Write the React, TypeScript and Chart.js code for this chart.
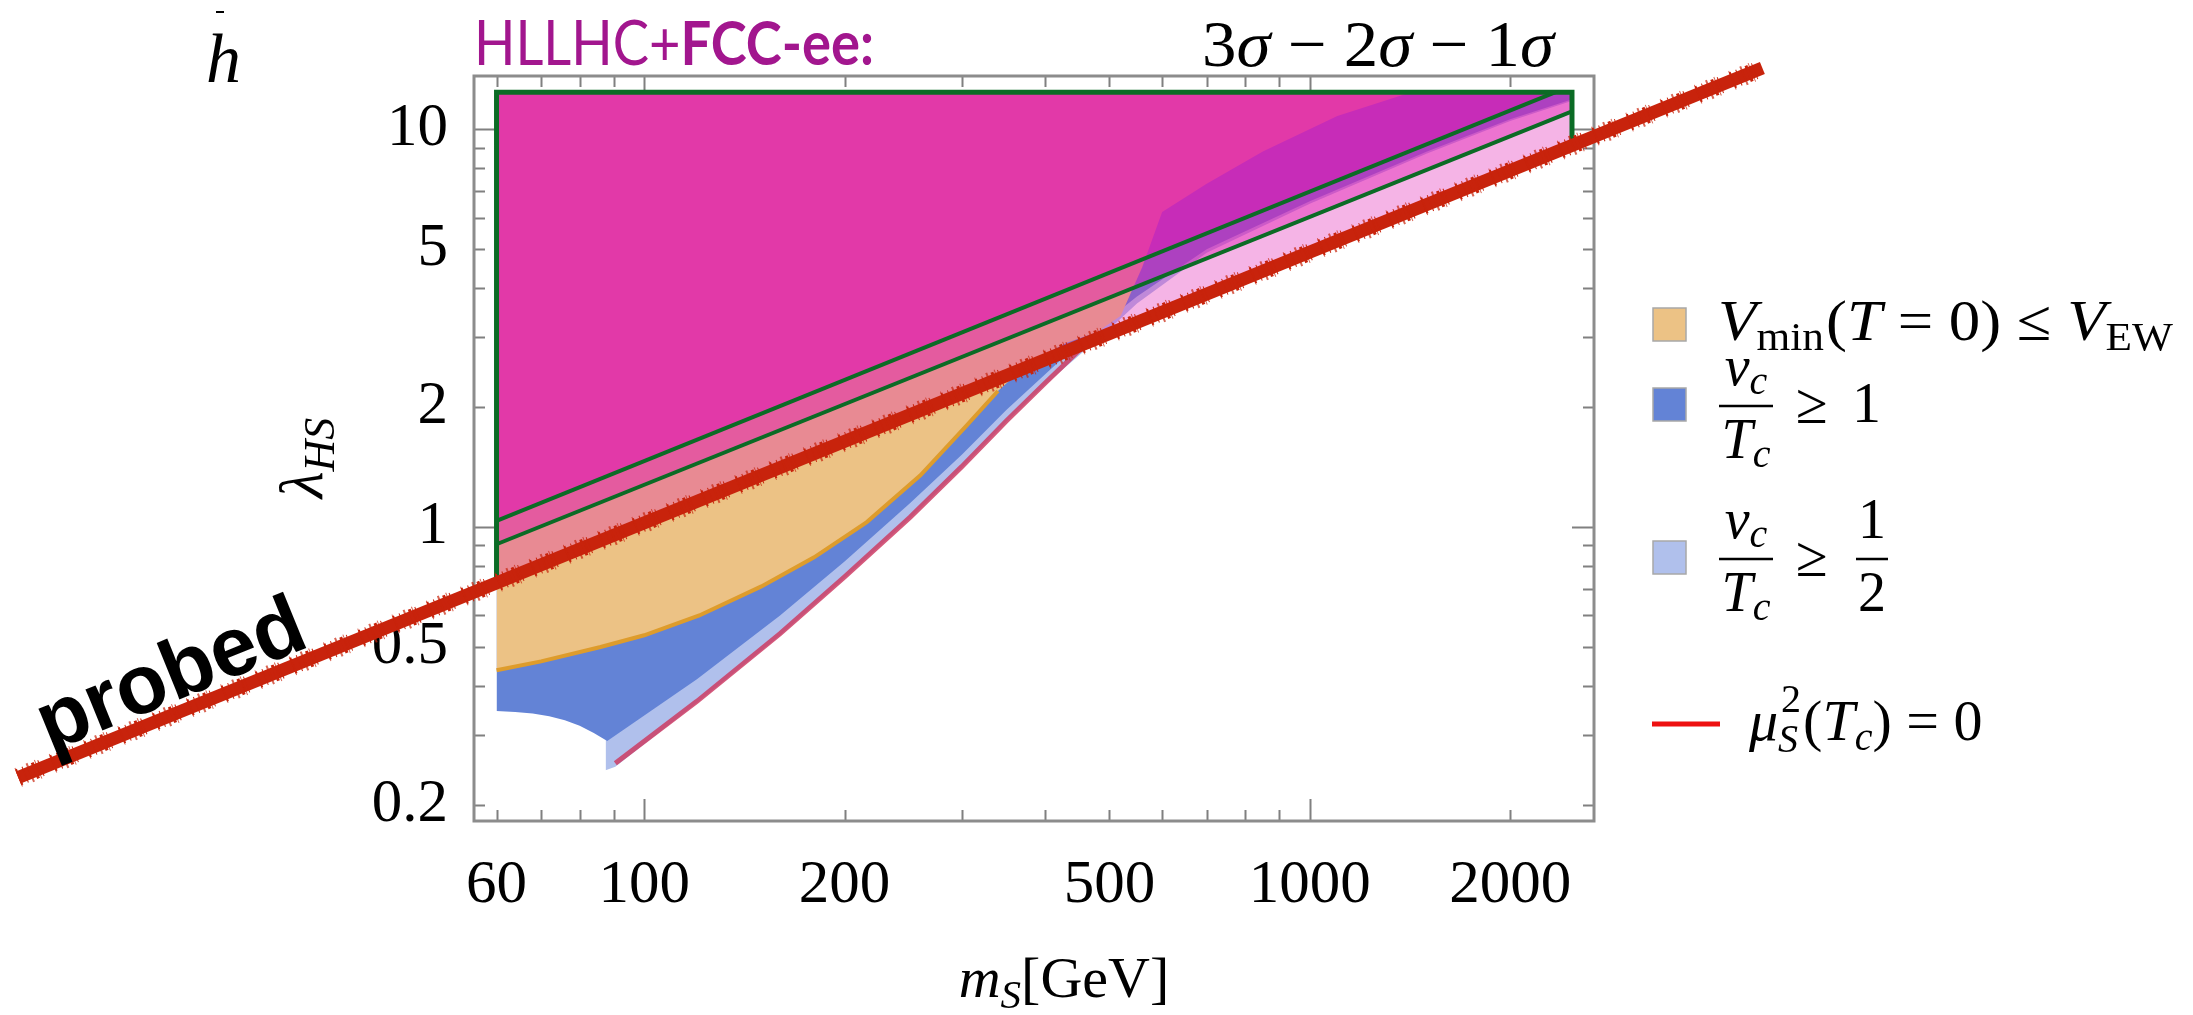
import React, { useEffect, useRef } from 'react';
import { Chart, registerables } from 'chart.js';

Chart.register(...registerables);

const CANVAS_W = 2193;
const CANVAS_H = 1015;

// axis ranges (log-log)
const X_MIN = 55.5;
const X_MAX = 2673;
const Y_MIN = 0.1826;
const Y_MAX = 13.62;

// ticks
const xTickValues = [60, 70, 80, 90, 100, 200, 300, 400, 500, 600, 700, 800, 900, 1000, 2000];
const xTickLabels = ['60', '', '', '', '100', '200', '', '', '500', '', '', '', '', '1000', '2000'];
const yTickValues = [0.2, 0.3, 0.4, 0.5, 0.6, 0.7, 0.8, 0.9, 1, 2, 3, 4, 5, 6, 7, 8, 9, 10];
const yTickLabels = ['0.2', '', '', '0.5', '', '', '', '', '1', '2', '', '', '5', '', '', '', '', '10'];
const longTicks = [1, 10, 100, 1000];

// perturbativity cap and scan edges
const LAMBDA_TOP = 12.4;
const M_LEFT = 60;
const M_RIGHT = 2477;

// HL-LHC + FCC-ee sensitivity contours (1σ, 2σ, 3σ)
const sigma1M = [60, 2477];
const sigma1L = [0.73, 9.0];
const sigma2M = [60, 2477];
const sigma2L = [0.906, 11.1];
const sigma3M = [60, 2340];
const sigma3L = [1.037, 12.4];

// hand-drawn "probed" line
const probedM = [11.47, 4786];
const probedL = [0.235, 14.26];

// V_min(T=0) <= V_EW : lower edge of region
const orangeM = [60, 70, 86, 100, 121, 150, 180, 216, 260, 305, 340, 380, 430, 480, 520, 560, 600, 700, 850, 1100, 1420];
const orangeL = [0.437, 0.46, 0.5, 0.535, 0.6, 0.71, 0.84, 1.03, 1.35, 1.8, 2.2, 2.6, 2.9, 3.1, 3.4, 4.5, 6.2, 7.3, 8.8, 10.8, 12.4];
const orangeEdgeCut = 360;

// v_c/T_c >= 1 : lower edge of region
const blueM = [60, 64, 68, 72, 76, 80, 84, 88, 120, 160, 200, 251, 300, 350, 400, 460, 550, 700, 1000, 1500, 2000, 2480];
const blueL = [0.345, 0.343, 0.34, 0.335, 0.327, 0.317, 0.304, 0.29, 0.415, 0.6, 0.82, 1.15, 1.52, 1.97, 2.42, 3.0, 3.8, 5.0, 6.6, 8.8, 10.6, 11.9];

// v_c/T_c >= 1/2 : lower edge of region
const lightBlueM = [87.5, 90.5, 120, 160, 200, 251, 300, 350, 400, 450, 500, 550, 700, 1000, 1500, 2000, 2480];
const lightBlueL = [0.245, 0.25, 0.362, 0.535, 0.745, 1.055, 1.41, 1.84, 2.28, 2.7, 3.15, 3.65, 4.9, 6.5, 8.7, 10.5, 11.8];

// mu_S^2(T_c) = 0 line
const mu2M = [90.5, 120, 160, 200, 251, 300, 350, 400, 450];
const mu2L = [0.255, 0.365, 0.54, 0.75, 1.06, 1.42, 1.85, 2.3, 2.78];

const SERIF = '"Liberation Serif", "Times New Roman", serif';
const SANS = '"Liberation Sans", Arial, sans-serif';

function pts(ms: number[], ls: number[]) {
  return ms.map((m, i) => ({ x: m, y: ls[i] }));
}

type Seg = { t: string; size: number; it?: boolean; bold?: boolean; family?: string; dy?: number; dx?: number };
function fontOf(s: Seg) {
  return `${s.it ? 'italic ' : ''}${s.bold ? '700' : '400'} ${s.size}px ${s.family || SERIF}`;
}
function segsWidth(ctx: CanvasRenderingContext2D, segs: Seg[]) {
  let w = 0;
  for (const s of segs) {
    ctx.font = fontOf(s);
    w += (s.dx || 0) + ctx.measureText(s.t).width;
  }
  return w;
}
function drawSegs(ctx: CanvasRenderingContext2D, segs: Seg[], x: number, y: number) {
  let cx = x;
  for (const s of segs) {
    ctx.font = fontOf(s);
    cx += s.dx || 0;
    ctx.fillText(s.t, cx, y + (s.dy || 0));
    cx += ctx.measureText(s.t).width;
  }
  return cx;
}
function drawFit(ctx: CanvasRenderingContext2D, segs: Seg[], x: number, y: number, width: number) {
  const w = segsWidth(ctx, segs);
  ctx.save();
  ctx.translate(x, y);
  ctx.scale(width / w, 1);
  drawSegs(ctx, segs, 0, 0);
  ctx.restore();
}

export default function App() {
  const ref = useRef<HTMLCanvasElement>(null);

  useEffect(() => {
    const canvas = ref.current;
    if (!canvas) return;
    const PINK = (a: number) => `rgba(224,22,176,${a})`;
    const datasets: any[] = [];
    const add = (d: any) => {
      datasets.push({
        pointRadius: 0,
        pointHoverRadius: 0,
        borderWidth: 0,
        borderColor: 'rgba(0,0,0,0)',
        backgroundColor: 'rgba(0,0,0,0)',
        fill: false,
        tension: 0,
        ...d,
      });
      return datasets.length - 1;
    };

    // invisible fill targets
    const topLB = add({ data: pts([lightBlueM[0], lightBlueM[lightBlueM.length - 1]], [LAMBDA_TOP, LAMBDA_TOP]), order: 200 });
    const topDB = add({ data: pts([blueM[0], blueM[blueM.length - 1]], [LAMBDA_TOP, LAMBDA_TOP]), order: 200 });
    const topOr = add({ data: pts([orangeM[0], orangeM[orangeM.length - 1]], [LAMBDA_TOP, LAMBDA_TOP]), order: 200 });
    const s2Target = add({ data: pts(sigma2M, sigma2L), order: 200 });
    const s3Target = add({ data: pts(sigma3M.concat([M_RIGHT]), sigma3L.concat([LAMBDA_TOP])), order: 200 });
    const topS3 = add({ data: pts([sigma3M[0], sigma3M[1]], [LAMBDA_TOP, LAMBDA_TOP]), order: 200 });

    // regions
    add({ data: pts(lightBlueM, lightBlueL), fill: topLB, backgroundColor: '#b0c0ec', order: 90 });
    add({ data: pts(blueM, blueL), fill: topDB, backgroundColor: '#6383d6', order: 80 });
    add({ data: pts(orangeM, orangeL), fill: topOr, backgroundColor: '#ecc285', order: 70 });
    const edgeIdx = orangeM.filter((m) => m <= orangeEdgeCut).length;
    add({ data: pts(orangeM.slice(0, edgeIdx), orangeL.slice(0, edgeIdx)), borderColor: '#de9c2c', borderWidth: 4, order: 65 });
    add({ data: pts(mu2M, mu2L), borderColor: 'rgba(205,60,100,0.85)', borderWidth: 5, order: 60 });

    // sensitivity bands
    add({ data: pts(sigma1M, sigma1L), fill: s2Target, backgroundColor: PINK(0.32), order: 50 });
    add({ data: pts(sigma2M, sigma2L), fill: s3Target, backgroundColor: PINK(0.6), order: 49 });
    add({ data: pts(sigma3M, sigma3L), fill: topS3, backgroundColor: PINK(0.8), order: 48 });

    // green contour lines
    const GREEN = '#0b6b25';
    add({
      data: pts([M_LEFT, M_LEFT, M_RIGHT, M_RIGHT, M_LEFT], [sigma1L[0], LAMBDA_TOP, LAMBDA_TOP, sigma1L[1], sigma1L[0]]),
      borderColor: GREEN, borderWidth: 5, borderJoinStyle: 'miter', order: 40,
    });
    add({ data: pts(sigma2M, sigma2L), borderColor: GREEN, borderWidth: 4, order: 40 });
    add({ data: pts(sigma3M, sigma3L), borderColor: GREEN, borderWidth: 4, order: 40 });

    // hand-drawn red line
    const RED = '#c8230c';
    add({ data: pts(probedM, probedL), borderColor: RED, borderWidth: 13, clip: false, order: 10 });
    add({ data: pts(probedM, probedL), borderColor: RED, borderWidth: 17, borderDash: [2, 5, 1, 9, 3, 4, 1, 12], clip: false, order: 9 });
    add({ data: pts(probedM, probedL), borderColor: 'rgba(200,35,12,0.7)', borderWidth: 20, borderDash: [1, 11, 2, 7, 1, 15], clip: false, order: 8 });

    const decor = {
      id: 'decor',
      beforeDatasetsDraw(chart: any) {
        const { ctx, chartArea: a, scales } = chart;
        const xs = scales.x;
        const ys = scales.y;
        ctx.save();
        ctx.strokeStyle = '#808080';
        ctx.lineWidth = 2;
        for (const v of xTickValues) {
          const px = Math.round(xs.getPixelForValue(v)) + 0.5;
          const len = longTicks.includes(v) ? 22 : 11;
          ctx.beginPath();
          ctx.moveTo(px, a.bottom); ctx.lineTo(px, a.bottom - len);
          ctx.moveTo(px, a.top); ctx.lineTo(px, a.top + len);
          ctx.stroke();
        }
        for (const v of yTickValues) {
          const py = Math.round(ys.getPixelForValue(v)) + 0.5;
          const len = longTicks.includes(v) ? 22 : 11;
          ctx.beginPath();
          ctx.moveTo(a.left, py); ctx.lineTo(a.left + len, py);
          ctx.moveTo(a.right, py); ctx.lineTo(a.right - len, py);
          ctx.stroke();
        }
        ctx.strokeStyle = '#8c8c8c';
        ctx.lineWidth = 3;
        ctx.strokeRect(a.left, a.top, a.right - a.left, a.bottom - a.top);
        ctx.restore();
      },
      afterDraw(chart: any) {
        const { ctx, scales } = chart;
        const xs = scales.x;
        const ys = scales.y;
        ctx.save();
        ctx.textAlign = 'left';
        ctx.textBaseline = 'alphabetic';
        ctx.fillStyle = '#000';

        // cropped "h" in the top-left corner
        ctx.font = `italic 400 70px ${SERIF}`;
        ctx.fillText('h', 206, 82);
        ctx.fillRect(216, 11, 8, 2);

        // title
        ctx.fillStyle = '#a2168e';
        drawFit(ctx, [
          { t: 'HLLHC+', size: 62, family: 'Lato, ' + SANS },
          { t: 'FCC-ee:', size: 62, bold: true, family: 'Lato, ' + SANS },
        ], 474, 65, 400);

        ctx.fillStyle = '#000';
        drawFit(ctx, [
          { t: '3', size: 66 }, { t: 'σ', size: 66, it: true },
          { t: ' − ', size: 66 },
          { t: '2', size: 66 }, { t: 'σ', size: 66, it: true },
          { t: ' − ', size: 66 },
          { t: '1', size: 66 }, { t: 'σ', size: 66, it: true },
        ], 1202, 66, 352);

        // axis titles
        const xt: Seg[] = [
          { t: 'm', size: 58, it: true },
          { t: 'S', size: 41, it: true, dy: 11 },
          { t: '[GeV]', size: 58 },
        ];
        drawSegs(ctx, xt, 1064 - segsWidth(ctx, xt) / 2, 997);

        ctx.save();
        ctx.translate(322, 458);
        ctx.rotate(-Math.PI / 2);
        const yt: Seg[] = [
          { t: 'λ', size: 62, it: true },
          { t: 'HS', size: 44, it: true, dy: 12 },
        ];
        drawSegs(ctx, yt, -segsWidth(ctx, yt) / 2, 0);
        ctx.restore();

        // "probed" text along the red line
        const p0x = xs.getPixelForValue(probedM[0]);
        const p0y = ys.getPixelForValue(probedL[0]);
        const p1x = xs.getPixelForValue(probedM[1]);
        const p1y = ys.getPixelForValue(probedL[1]);
        const ang = Math.atan2(p1y - p0y, p1x - p0x);
        ctx.save();
        ctx.translate(50, 752);
        ctx.rotate(ang);
        drawFit(ctx, [{ t: 'probed', size: 84, bold: true, family: SANS }], 0, 0, 282);
        ctx.restore();

        // legend
        const swatch = (y: number, color: string) => {
          ctx.fillStyle = color;
          ctx.fillRect(1653, y, 33, 33);
          ctx.strokeStyle = '#a8a8a8';
          ctx.lineWidth = 1.5;
          ctx.strokeRect(1653, y, 33, 33);
          ctx.fillStyle = '#000';
        };
        const frac = (cx: number, barY: number, halfW: number, num: Seg[], den: Seg[]) => {
          ctx.fillRect(cx - halfW, barY - 1.25, halfW * 2, 2.5);
          drawSegs(ctx, num, cx - segsWidth(ctx, num) / 2, barY - 21);
          drawSegs(ctx, den, cx - segsWidth(ctx, den) / 2, barY + 52);
        };
        const vc: Seg[] = [{ t: 'v', size: 56, it: true }, { t: 'c', size: 40, it: true, dy: 9 }];
        const Tc: Seg[] = [{ t: 'T', size: 56, it: true }, { t: 'c', size: 40, it: true, dy: 9 }];

        swatch(308, '#ecc285');
        drawFit(ctx, [
          { t: 'V', size: 58, it: true },
          { t: 'min', size: 40, dy: 10 },
          { t: '(', size: 58, dx: 2 },
          { t: 'T', size: 58, it: true },
          { t: ' = 0) ≤ ', size: 58 },
          { t: 'V', size: 58, it: true },
          { t: 'EW', size: 40, dy: 10 },
        ], 1718, 340, 455);

        swatch(388, '#6383d6');
        frac(1746, 406, 27, vc, Tc);
        drawSegs(ctx, [{ t: '≥', size: 58 }], 1796, 423);
        drawSegs(ctx, [{ t: '1', size: 58 }], 1852, 422);

        swatch(541, '#b0c0ec');
        frac(1746, 559, 27, vc, Tc);
        drawSegs(ctx, [{ t: '≥', size: 58 }], 1796, 576);
        frac(1872, 559, 16, [{ t: '1', size: 56 }], [{ t: '2', size: 56 }]);

        ctx.strokeStyle = '#ee1111';
        ctx.lineWidth = 5;
        ctx.beginPath();
        ctx.moveTo(1652, 724);
        ctx.lineTo(1720, 724);
        ctx.stroke();
        let cx = drawSegs(ctx, [{ t: 'μ', size: 58, it: true }], 1749, 740);
        ctx.font = fontOf({ t: 'S', size: 40, it: true });
        ctx.fillText('S', cx, 752);
        const wS = ctx.measureText('S').width;
        ctx.font = fontOf({ t: '2', size: 40 });
        ctx.fillText('2', cx + 3, 712);
        cx += Math.max(wS, ctx.measureText('2').width + 3) + 2;
        drawSegs(ctx, [
          { t: '(', size: 58 },
          { t: 'T', size: 58, it: true },
          { t: 'c', size: 40, it: true, dy: 10 },
          { t: ') = 0', size: 58 },
        ], cx, 740);

        ctx.restore();
      },
    };

    const chart = new Chart(canvas, {
      type: 'line',
      data: { datasets },
      options: {
        animation: false,
        responsive: false,
        devicePixelRatio: 1,
        events: [],
        layout: { padding: { left: 0, top: 76, right: CANVAS_W - 1594, bottom: 0 } },
        plugins: { legend: { display: false }, tooltip: { enabled: false }, title: { display: false } },
        scales: {
          x: {
            type: 'logarithmic',
            min: X_MIN,
            max: X_MAX,
            grid: { display: false },
            border: { display: false },
            afterBuildTicks: (s: any) => { s.ticks = xTickValues.map((v) => ({ value: v })); },
            afterFit: (s: any) => { s.height = CANVAS_H - 821; },
            ticks: {
              autoSkip: false,
              maxRotation: 0,
              minRotation: 0,
              padding: 20,
              color: '#000',
              font: { family: SERIF, size: 61 },
              callback: (v: any) => xTickLabels[xTickValues.indexOf(Number(v))] ?? '',
            },
          },
          y: {
            type: 'logarithmic',
            min: Y_MIN,
            max: Y_MAX,
            grid: { display: false },
            border: { display: false },
            afterBuildTicks: (s: any) => { s.ticks = yTickValues.map((v) => ({ value: v })); },
            afterFit: (s: any) => { s.width = 474; },
            ticks: {
              autoSkip: false,
              padding: 18,
              color: '#000',
              font: { family: SERIF, size: 61 },
              callback: (v: any) => yTickLabels[yTickValues.indexOf(Number(v))] ?? '',
            },
          },
        },
      } as any,
      plugins: [decor],
    });
    return () => chart.destroy();
  }, []);

  return (
    <div style={{ position: 'absolute', left: 0, top: 0, width: CANVAS_W, height: CANVAS_H, overflow: 'hidden', background: '#fff' }}>
      <canvas ref={ref} width={CANVAS_W} height={CANVAS_H} style={{ display: 'block' }} />
    </div>
  );
}
